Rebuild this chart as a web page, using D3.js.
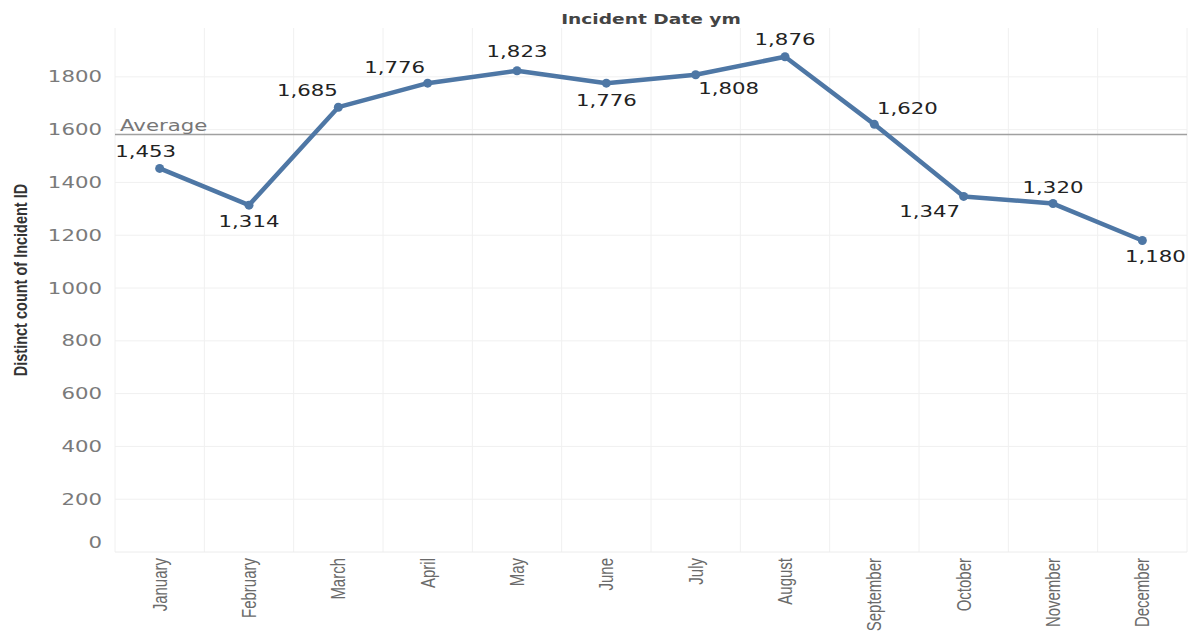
<!DOCTYPE html>
<html>
<head>
<meta charset="utf-8">
<script src="https://cdn.jsdelivr.net/npm/d3@7"></script>
<style>
  html, body { margin: 0; padding: 0; background: #fff; }
  svg { display: block; }
</style>
</head>
<body>
<svg id="chart" width="1195" height="635"></svg>
<script>
// Monthly distinct incident counts
const months = ["January", "February", "March", "April", "May", "June",
                "July", "August", "September", "October", "November", "December"];
const counts = [1453, 1314, 1685, 1776, 1823, 1776, 1808, 1876, 1620, 1347, 1320, 1180];
const yTicks = [0, 200, 400, 600, 800, 1000, 1200, 1400, 1600, 1800];

// Label offsets (px) from each point, so labels sit clear of the line
const labelOffsets = [
  [-14, -17], [0, 16], [-31, -17], [-33, -16], [0, -19], [0, 17],
  [33, 14], [0, -17], [33, -16], [-34, 15], [0, -16], [13, 16]
];

const plotLeft = 115, plotRight = 1187, plotTop = 28, plotBottom = 552;
const SX = 1.33; // horizontal text stretch

const svg = d3.select("#chart");

const x = d3.scaleBand().domain(months).range([plotLeft, plotRight]).padding(0);
const y = d3.scaleLinear().domain([0, 1985]).range([plotBottom, plotTop]);
const cx = m => x(m) + x.bandwidth() / 2;

const fmt = d3.format(",");
const data = months.map((m, i) => ({ month: m, value: counts[i], off: labelOffsets[i] }));
const average = d3.mean(counts);

function stretchText(sel, tx, ty, rot) {
  sel.attr("transform", (d, i) => {
    const a = typeof tx === "function" ? tx(d, i) : tx;
    const b = typeof ty === "function" ? ty(d, i) : ty;
    return `translate(${a},${b}) scale(${SX},1)` + (rot ? ` rotate(${rot})` : "");
  });
}

// Gridlines
const grid = svg.append("g");
grid.selectAll("line.h").data(yTicks.filter(t => t > 0)).join("line")
  .attr("x1", plotLeft).attr("x2", plotRight)
  .attr("y1", d => y(d)).attr("y2", d => y(d))
  .attr("stroke", "#f0f0f0").attr("stroke-width", 1);
grid.selectAll("line.v").data(months.map(m => x(m)).concat([plotRight])).join("line")
  .attr("x1", d => d).attr("x2", d => d)
  .attr("y1", plotTop).attr("y2", plotBottom)
  .attr("stroke", "#f0f0f0").attr("stroke-width", 1);
grid.append("line")
  .attr("x1", plotLeft).attr("x2", plotRight).attr("y1", plotBottom).attr("y2", plotBottom)
  .attr("stroke", "#ececec").attr("stroke-width", 1);

// Y axis tick labels
svg.append("g").selectAll("text").data(yTicks).join("text")
  .attr("text-anchor", "end")
  .attr("dy", "0.35em")
  .attr("font-family", "DejaVu Sans, sans-serif")
  .attr("font-size", 16)
  .attr("fill", "#7a7a7a")
  .text(d => d)
  .call(stretchText, 102, d => d === 0 ? y(d) - 10 : y(d));

// Y axis title
svg.append("text")
  .attr("text-anchor", "middle")
  .attr("dy", "0.35em")
  .attr("font-family", "Liberation Sans, Arial, sans-serif")
  .attr("font-weight", "bold")
  .attr("font-size", 14.5)
  .attr("fill", "#333")
  .text("Distinct count of Incident ID")
  .call(stretchText, 20, 280, -90);

// Top title
svg.append("text")
  .attr("text-anchor", "middle")
  .attr("dy", "0.35em")
  .attr("font-family", "DejaVu Sans, sans-serif")
  .attr("font-weight", "bold")
  .attr("font-size", 14)
  .attr("fill", "#444")
  .text("Incident Date ym")
  .call(stretchText, (plotLeft + plotRight) / 2, 19);

// Month labels
svg.append("g").selectAll("text").data(months).join("text")
  .attr("text-anchor", "end")
  .attr("dy", "0.35em")
  .attr("font-family", "Liberation Sans, Arial, sans-serif")
  .attr("font-size", 15)
  .attr("fill", "#6a6a6a")
  .text(d => d)
  .call(stretchText, d => cx(d), 558, -90);

// Average reference line
svg.append("line")
  .attr("x1", plotLeft).attr("x2", plotRight)
  .attr("y1", y(average)).attr("y2", y(average))
  .attr("stroke", "#a0a0a0").attr("stroke-width", 1.6);
svg.append("text")
  .attr("font-family", "DejaVu Sans, sans-serif")
  .attr("font-size", 16)
  .attr("fill", "#777")
  .text("Average")
  .call(stretchText, 120, y(average) - 4);

// Line + points
const blue = "#4e77a5";
const line = d3.line().x(d => cx(d.month)).y(d => y(d.value));
svg.append("path").datum(data)
  .attr("d", line)
  .attr("fill", "none")
  .attr("stroke", blue)
  .attr("stroke-width", 4.5)
  .attr("stroke-linejoin", "round");
svg.append("g").selectAll("circle").data(data).join("circle")
  .attr("cx", d => cx(d.month)).attr("cy", d => y(d.value))
  .attr("r", 4.5).attr("fill", blue);

// Value labels
svg.append("g").selectAll("text").data(data).join("text")
  .attr("text-anchor", "middle")
  .attr("dy", "0.35em")
  .attr("font-family", "DejaVu Sans, sans-serif")
  .attr("font-size", 16)
  .attr("fill", "#222")
  .text(d => fmt(d.value))
  .call(stretchText, d => cx(d.month) + d.off[0], d => y(d.value) + d.off[1]);
</script>
</body>
</html>
